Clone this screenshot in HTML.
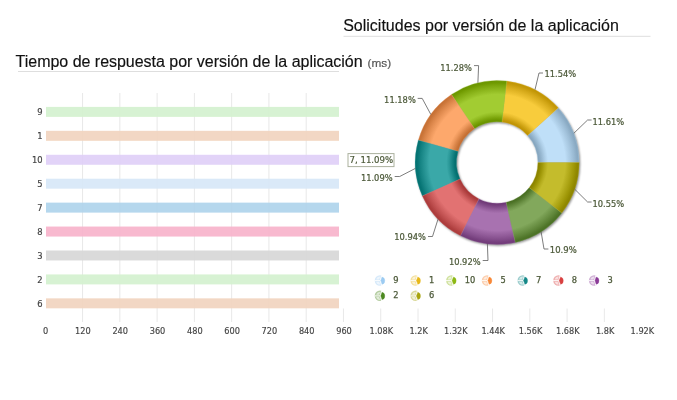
<!DOCTYPE html>
<html lang="es"><head><meta charset="utf-8"><title>Dashboard</title>
<style>html,body{margin:0;padding:0;background:#fff;overflow:hidden}svg{display:block}</style>
</head><body>
<svg width="677" height="400" viewBox="0 0 677 400">
<defs>
<radialGradient id="shade" gradientUnits="userSpaceOnUse" cx="497.2" cy="162.5" r="82">
<stop offset="0.5" stop-color="#000" stop-opacity="0.28"/>
<stop offset="0.53" stop-color="#000" stop-opacity="0.16"/>
<stop offset="0.59" stop-color="#000" stop-opacity="0"/>
<stop offset="0.80" stop-color="#000" stop-opacity="0"/>
<stop offset="0.90" stop-color="#000" stop-opacity="0.07"/>
<stop offset="0.96" stop-color="#000" stop-opacity="0.18"/>
<stop offset="1" stop-color="#000" stop-opacity="0.30"/>
</radialGradient>
<radialGradient id="g0" gradientUnits="userSpaceOnUse" cx="497.2" cy="162.5" r="82"><stop offset="0.494" stop-color="#81a1ba"/><stop offset="0.52" stop-color="#8babc4"/><stop offset="0.55" stop-color="#9bbbd4"/><stop offset="0.585" stop-color="#afcfe8"/><stop offset="0.62" stop-color="#bfdff8"/><stop offset="0.83" stop-color="#bfdff8"/><stop offset="0.86" stop-color="#b4d4ed"/><stop offset="0.9" stop-color="#a7c7e0"/><stop offset="0.94" stop-color="#99b9d2"/><stop offset="0.97" stop-color="#8dadc6"/><stop offset="1" stop-color="#85a5be"/></radialGradient>
<radialGradient id="g1" gradientUnits="userSpaceOnUse" cx="497.2" cy="162.5" r="82"><stop offset="0.494" stop-color="#ba8e00"/><stop offset="0.52" stop-color="#c49808"/><stop offset="0.55" stop-color="#d4a818"/><stop offset="0.585" stop-color="#e8bc2c"/><stop offset="0.62" stop-color="#f8cc3c"/><stop offset="0.83" stop-color="#f8cc3c"/><stop offset="0.86" stop-color="#edc131"/><stop offset="0.9" stop-color="#e0b424"/><stop offset="0.94" stop-color="#d2a616"/><stop offset="0.97" stop-color="#c69a0a"/><stop offset="1" stop-color="#be9202"/></radialGradient>
<radialGradient id="g2" gradientUnits="userSpaceOnUse" cx="497.2" cy="162.5" r="82"><stop offset="0.494" stop-color="#648e00"/><stop offset="0.52" stop-color="#6e9800"/><stop offset="0.55" stop-color="#7ea80e"/><stop offset="0.585" stop-color="#92bc22"/><stop offset="0.62" stop-color="#a2cc32"/><stop offset="0.83" stop-color="#a2cc32"/><stop offset="0.86" stop-color="#97c127"/><stop offset="0.9" stop-color="#8ab41a"/><stop offset="0.94" stop-color="#7ca60c"/><stop offset="0.97" stop-color="#709a00"/><stop offset="1" stop-color="#689200"/></radialGradient>
<radialGradient id="g3" gradientUnits="userSpaceOnUse" cx="497.2" cy="162.5" r="82"><stop offset="0.494" stop-color="#bf6a2e"/><stop offset="0.52" stop-color="#c97438"/><stop offset="0.55" stop-color="#d98448"/><stop offset="0.585" stop-color="#ed985c"/><stop offset="0.62" stop-color="#fda86c"/><stop offset="0.83" stop-color="#fda86c"/><stop offset="0.86" stop-color="#f29d61"/><stop offset="0.9" stop-color="#e59054"/><stop offset="0.94" stop-color="#d78246"/><stop offset="0.97" stop-color="#cb763a"/><stop offset="1" stop-color="#c36e32"/></radialGradient>
<radialGradient id="g4" gradientUnits="userSpaceOnUse" cx="497.2" cy="162.5" r="82"><stop offset="0.494" stop-color="#006a6a"/><stop offset="0.52" stop-color="#067474"/><stop offset="0.55" stop-color="#168484"/><stop offset="0.585" stop-color="#2a9898"/><stop offset="0.62" stop-color="#3aa8a8"/><stop offset="0.83" stop-color="#3aa8a8"/><stop offset="0.86" stop-color="#2f9d9d"/><stop offset="0.9" stop-color="#229090"/><stop offset="0.94" stop-color="#148282"/><stop offset="0.97" stop-color="#087676"/><stop offset="1" stop-color="#006e6e"/></radialGradient>
<radialGradient id="g5" gradientUnits="userSpaceOnUse" cx="497.2" cy="162.5" r="82"><stop offset="0.494" stop-color="#a43434"/><stop offset="0.52" stop-color="#ae3e3e"/><stop offset="0.55" stop-color="#be4e4e"/><stop offset="0.585" stop-color="#d26262"/><stop offset="0.62" stop-color="#e27272"/><stop offset="0.83" stop-color="#e27272"/><stop offset="0.86" stop-color="#d76767"/><stop offset="0.9" stop-color="#ca5a5a"/><stop offset="0.94" stop-color="#bc4c4c"/><stop offset="0.97" stop-color="#b04040"/><stop offset="1" stop-color="#a83838"/></radialGradient>
<radialGradient id="g6" gradientUnits="userSpaceOnUse" cx="497.2" cy="162.5" r="82"><stop offset="0.494" stop-color="#6a3472"/><stop offset="0.52" stop-color="#743e7c"/><stop offset="0.55" stop-color="#844e8c"/><stop offset="0.585" stop-color="#9862a0"/><stop offset="0.62" stop-color="#a872b0"/><stop offset="0.83" stop-color="#a872b0"/><stop offset="0.86" stop-color="#9d67a5"/><stop offset="0.9" stop-color="#905a98"/><stop offset="0.94" stop-color="#824c8a"/><stop offset="0.97" stop-color="#76407e"/><stop offset="1" stop-color="#6e3876"/></radialGradient>
<radialGradient id="g7" gradientUnits="userSpaceOnUse" cx="497.2" cy="162.5" r="82"><stop offset="0.494" stop-color="#446a1e"/><stop offset="0.52" stop-color="#4e7428"/><stop offset="0.55" stop-color="#5e8438"/><stop offset="0.585" stop-color="#72984c"/><stop offset="0.62" stop-color="#82a85c"/><stop offset="0.83" stop-color="#82a85c"/><stop offset="0.86" stop-color="#779d51"/><stop offset="0.9" stop-color="#6a9044"/><stop offset="0.94" stop-color="#5c8236"/><stop offset="0.97" stop-color="#50762a"/><stop offset="1" stop-color="#486e22"/></radialGradient>
<radialGradient id="g8" gradientUnits="userSpaceOnUse" cx="497.2" cy="162.5" r="82"><stop offset="0.494" stop-color="#867e00"/><stop offset="0.52" stop-color="#908800"/><stop offset="0.55" stop-color="#a09808"/><stop offset="0.585" stop-color="#b4ac1c"/><stop offset="0.62" stop-color="#c4bc2c"/><stop offset="0.83" stop-color="#c4bc2c"/><stop offset="0.86" stop-color="#b9b121"/><stop offset="0.9" stop-color="#aca414"/><stop offset="0.94" stop-color="#9e9606"/><stop offset="0.97" stop-color="#928a00"/><stop offset="1" stop-color="#8a8200"/></radialGradient>

<filter id="ds" x="-10%" y="-10%" width="125%" height="125%"><feGaussianBlur stdDeviation="1"/></filter>
</defs>
<rect width="677" height="400" fill="#fff"/>
<g font-family="'Liberation Sans', Arial, sans-serif" fill="#111" stroke="#111" stroke-width="0.15">
<text x="343.2" y="30.9" font-size="16">Solicitudes por versión de la aplicación</text>
<text x="15.6" y="66.9" font-size="16" textLength="347" lengthAdjust="spacing">Tiempo de respuesta por versión de la aplicación</text>
<text x="367.6" y="66.8" font-size="11.8" fill="#666">(ms)</text>
</g>
<rect x="343.5" y="35.8" width="307" height="1" fill="#dedede"/>
<rect x="18" y="71" width="321" height="1" fill="#dedede"/>
<g stroke="#e0e0e0" stroke-width="0.75">
<line x1="82.57" y1="93" x2="82.57" y2="322"/>
<line x1="119.84" y1="93" x2="119.84" y2="322"/>
<line x1="157.11" y1="93" x2="157.11" y2="322"/>
<line x1="194.38" y1="93" x2="194.38" y2="322"/>
<line x1="231.65" y1="93" x2="231.65" y2="322"/>
<line x1="268.92" y1="93" x2="268.92" y2="322"/>
<line x1="306.19" y1="93" x2="306.19" y2="322"/>
<line x1="343.46" y1="308.5" x2="343.46" y2="322"/>
<line x1="380.73" y1="308.5" x2="380.73" y2="322"/>
<line x1="418.00" y1="308.5" x2="418.00" y2="322"/>
<line x1="455.27" y1="308.5" x2="455.27" y2="322"/>
<line x1="492.54" y1="308.5" x2="492.54" y2="322"/>
<line x1="529.81" y1="308.5" x2="529.81" y2="322"/>
<line x1="567.08" y1="308.5" x2="567.08" y2="322"/>
<line x1="604.35" y1="308.5" x2="604.35" y2="322"/>
</g>
<g opacity="0.93">
<rect x="46" y="106.90" width="293" height="10" fill="#D5F2D0"/>
<rect x="46" y="130.83" width="293" height="10" fill="#F2D5C0"/>
<rect x="46" y="154.76" width="293" height="10" fill="#E0D0F8"/>
<rect x="46" y="178.69" width="293" height="10" fill="#D8E8F8"/>
<rect x="46" y="202.62" width="293" height="10" fill="#B0D4EC"/>
<rect x="46" y="226.55" width="293" height="10" fill="#F8B4CC"/>
<rect x="46" y="250.48" width="293" height="10" fill="#D8D8D8"/>
<rect x="46" y="274.41" width="293" height="10" fill="#D5F2D0"/>
<rect x="46" y="298.34" width="293" height="10" fill="#F2D5C0"/>
</g>
<g font-family="'DejaVu Sans', Verdana, sans-serif" font-size="8.4" fill="#444" stroke="#444" stroke-width="0.2" text-anchor="end">
<text x="42.6" y="115.35">9</text>
<text x="42.6" y="139.28">1</text>
<text x="42.6" y="163.21">10</text>
<text x="42.6" y="187.14">5</text>
<text x="42.6" y="211.07">7</text>
<text x="42.6" y="235.00">8</text>
<text x="42.6" y="258.93">3</text>
<text x="42.6" y="282.86">2</text>
<text x="42.6" y="306.79">6</text>
</g>
<g font-family="'DejaVu Sans', Verdana, sans-serif" font-size="8.2" fill="#444" stroke="#444" stroke-width="0.15" text-anchor="middle">
<text x="45.60" y="333.6">0</text>
<text x="82.90" y="333.6">120</text>
<text x="120.20" y="333.6">240</text>
<text x="157.50" y="333.6">360</text>
<text x="194.80" y="333.6">480</text>
<text x="232.10" y="333.6">600</text>
<text x="269.40" y="333.6">720</text>
<text x="306.70" y="333.6">840</text>
<text x="344.00" y="333.6">960</text>
<text x="381.30" y="333.6">1.08K</text>
<text x="418.60" y="333.6">1.2K</text>
<text x="455.90" y="333.6">1.32K</text>
<text x="493.20" y="333.6">1.44K</text>
<text x="530.50" y="333.6">1.56K</text>
<text x="567.80" y="333.6">1.68K</text>
<text x="605.10" y="333.6">1.8K</text>
<text x="642.40" y="333.6">1.92K</text>
</g>
<path d="M415.2,162.5a82,82 0 1,0 164,0a82,82 0 1,0 -164,0Z M456.5,162.5a40.7,40.7 0 1,1 81.4,0a40.7,40.7 0 1,1 -81.4,0Z" fill="#000" fill-opacity="0.45" fill-rule="evenodd" filter="url(#ds)" transform="translate(1,1.2)"/>
<path d="M579.20,162.50A82,82 0 0,0 558.34,107.85L527.54,135.38A40.7,40.7 0 0,1 537.90,162.50Z" fill="url(#g0)" stroke="#BFDFF8" stroke-width="0.3"/>
<path d="M558.34,107.85A82,82 0 0,0 506.72,81.05L501.93,122.08A40.7,40.7 0 0,1 527.54,135.38Z" fill="url(#g1)" stroke="#F8CC3C" stroke-width="0.3"/>
<path d="M506.72,81.05A82,82 0 0,0 451.42,94.47L474.48,128.73A40.7,40.7 0 0,1 501.93,122.08Z" fill="url(#g2)" stroke="#A2CC32" stroke-width="0.3"/>
<path d="M451.42,94.47A82,82 0 0,0 418.31,140.14L458.04,151.40A40.7,40.7 0 0,1 474.48,128.73Z" fill="url(#g3)" stroke="#FDA86C" stroke-width="0.3"/>
<path d="M418.31,140.14A82,82 0 0,0 422.35,195.98L460.05,179.12A40.7,40.7 0 0,1 458.04,151.40Z" fill="url(#g4)" stroke="#3AA8A8" stroke-width="0.3"/>
<path d="M422.35,195.98A82,82 0 0,0 460.59,235.87L479.03,198.92A40.7,40.7 0 0,1 460.05,179.12Z" fill="url(#g5)" stroke="#E27272" stroke-width="0.3"/>
<path d="M460.59,235.87A82,82 0 0,0 515.35,242.47L506.21,202.19A40.7,40.7 0 0,1 479.03,198.92Z" fill="url(#g6)" stroke="#A872B0" stroke-width="0.3"/>
<path d="M515.35,242.47A82,82 0 0,0 561.84,212.96L529.28,187.54A40.7,40.7 0 0,1 506.21,202.19Z" fill="url(#g7)" stroke="#82A85C" stroke-width="0.3"/>
<path d="M561.84,212.96A82,82 0 0,0 579.20,162.50L537.90,162.50A40.7,40.7 0 0,1 529.28,187.54Z" fill="url(#g8)" stroke="#C4BC2C" stroke-width="0.3"/>
<g fill="none" stroke="#5c5c5c" stroke-width="0.8">
<polyline points="591.6,120 587.6,120 573.8,133.3"/>
<polyline points="543,73 539,73 535.0,89.7"/>
<polyline points="474,65.6 478.6,65.6 477.9,82.8"/>
<polyline points="417.7,98.4 422.2,98.4 430.8,114.4"/>
<polyline points="394.7,176.5 399.7,176.5 415.4,168.4"/>
<polyline points="428,236.5 432.5,236.5 438.0,219.2"/>
<polyline points="482.7,260.5 488,260.5 487.4,243.9"/>
<polyline points="548.4,249 544,249 541.1,231.7"/>
<polyline points="591.6,202 587.6,202 574.7,189.2"/>
</g>
<g font-family="'DejaVu Sans', Verdana, sans-serif" font-size="8.1" fill="#4d5a3a" stroke="#4d5a3a" stroke-width="0.22">
<text x="592.5" y="124.5" textLength="31.7" lengthAdjust="spacingAndGlyphs">11.61%</text>
<text x="544.5" y="77.3" textLength="31.7" lengthAdjust="spacingAndGlyphs">11.54%</text>
<text x="440.3" y="70.7" textLength="31.7" lengthAdjust="spacingAndGlyphs">11.28%</text>
<text x="384.1" y="102.5" textLength="31.7" lengthAdjust="spacingAndGlyphs">11.18%</text>
<text x="360.9" y="181.3" textLength="31.7" lengthAdjust="spacingAndGlyphs">11.09%</text>
<text x="394.3" y="240.1" textLength="31.7" lengthAdjust="spacingAndGlyphs">10.94%</text>
<text x="448.9" y="264.9" textLength="31.7" lengthAdjust="spacingAndGlyphs">10.92%</text>
<text x="549.8" y="253.3" textLength="27.0" lengthAdjust="spacingAndGlyphs">10.9%</text>
<text x="592.5" y="206.5" textLength="31.7" lengthAdjust="spacingAndGlyphs">10.55%</text>
</g>
<rect x="348" y="153.6" width="46" height="13" fill="#fff" stroke="#abb19e" stroke-width="1"/>
<text x="349.5" y="163.3" font-family="'DejaVu Sans', Verdana, sans-serif" font-size="8.6" fill="#4d5a3a" stroke="#4d5a3a" stroke-width="0.2">7, 11.09%</text>
<g font-family="'DejaVu Sans', Verdana, sans-serif" font-size="8.3" fill="#4d5a3a" stroke="#4d5a3a" stroke-width="0.25">
<g transform="translate(380.0,280.5)">
<circle r="5.3" fill="#9CCBF2" fill-opacity="0.42" stroke="none"/>
<path d="M-3.8,-1.0L-0.9,-1.0L0.3,-3.9A4.0,4.0 0 0,0 -3.8,-1.0ZM-3.8,1.2L-0.9,1.2L0.3,4.1A4.0,4.0 0 0,1 -3.8,1.2Z" fill="#fff" fill-opacity="0.6" stroke="none"/>
<path d="M0.4,0.1H-5.4M0.2,0.1L1.7,-5.2M0.2,0.1L1.7,5.4" stroke="#fff" stroke-width="0.9" fill="none"/>
<path d="M1.9,-5.3A5.3,5.3 0 0,1 1.9,5.3L1.2,0Z" fill="#fff" stroke="none"/>
<path d="M0.8,0.1L2.1,-3.5A3.2,3.7 0 0,1 2.1,3.8Z" fill="#9CCBF2" stroke="#9CCBF2" stroke-width="0.3" stroke-linejoin="round"/>
</g>
<text x="393.3" y="283.1">9</text>
<g transform="translate(415.7,280.5)">
<circle r="5.3" fill="#E8B818" fill-opacity="0.42" stroke="none"/>
<path d="M-3.8,-1.0L-0.9,-1.0L0.3,-3.9A4.0,4.0 0 0,0 -3.8,-1.0ZM-3.8,1.2L-0.9,1.2L0.3,4.1A4.0,4.0 0 0,1 -3.8,1.2Z" fill="#fff" fill-opacity="0.6" stroke="none"/>
<path d="M0.4,0.1H-5.4M0.2,0.1L1.7,-5.2M0.2,0.1L1.7,5.4" stroke="#fff" stroke-width="0.9" fill="none"/>
<path d="M1.9,-5.3A5.3,5.3 0 0,1 1.9,5.3L1.2,0Z" fill="#fff" stroke="none"/>
<path d="M0.8,0.1L2.1,-3.5A3.2,3.7 0 0,1 2.1,3.8Z" fill="#E8B818" stroke="#E8B818" stroke-width="0.3" stroke-linejoin="round"/>
</g>
<text x="429.0" y="283.1">1</text>
<g transform="translate(451.4,280.5)">
<circle r="5.3" fill="#8CB814" fill-opacity="0.42" stroke="none"/>
<path d="M-3.8,-1.0L-0.9,-1.0L0.3,-3.9A4.0,4.0 0 0,0 -3.8,-1.0ZM-3.8,1.2L-0.9,1.2L0.3,4.1A4.0,4.0 0 0,1 -3.8,1.2Z" fill="#fff" fill-opacity="0.6" stroke="none"/>
<path d="M0.4,0.1H-5.4M0.2,0.1L1.7,-5.2M0.2,0.1L1.7,5.4" stroke="#fff" stroke-width="0.9" fill="none"/>
<path d="M1.9,-5.3A5.3,5.3 0 0,1 1.9,5.3L1.2,0Z" fill="#fff" stroke="none"/>
<path d="M0.8,0.1L2.1,-3.5A3.2,3.7 0 0,1 2.1,3.8Z" fill="#8CB814" stroke="#8CB814" stroke-width="0.3" stroke-linejoin="round"/>
</g>
<text x="464.7" y="283.1">10</text>
<g transform="translate(487.1,280.5)">
<circle r="5.3" fill="#F88838" fill-opacity="0.42" stroke="none"/>
<path d="M-3.8,-1.0L-0.9,-1.0L0.3,-3.9A4.0,4.0 0 0,0 -3.8,-1.0ZM-3.8,1.2L-0.9,1.2L0.3,4.1A4.0,4.0 0 0,1 -3.8,1.2Z" fill="#fff" fill-opacity="0.6" stroke="none"/>
<path d="M0.4,0.1H-5.4M0.2,0.1L1.7,-5.2M0.2,0.1L1.7,5.4" stroke="#fff" stroke-width="0.9" fill="none"/>
<path d="M1.9,-5.3A5.3,5.3 0 0,1 1.9,5.3L1.2,0Z" fill="#fff" stroke="none"/>
<path d="M0.8,0.1L2.1,-3.5A3.2,3.7 0 0,1 2.1,3.8Z" fill="#F88838" stroke="#F88838" stroke-width="0.3" stroke-linejoin="round"/>
</g>
<text x="500.4" y="283.1">5</text>
<g transform="translate(522.8,280.5)">
<circle r="5.3" fill="#148888" fill-opacity="0.42" stroke="none"/>
<path d="M-3.8,-1.0L-0.9,-1.0L0.3,-3.9A4.0,4.0 0 0,0 -3.8,-1.0ZM-3.8,1.2L-0.9,1.2L0.3,4.1A4.0,4.0 0 0,1 -3.8,1.2Z" fill="#fff" fill-opacity="0.6" stroke="none"/>
<path d="M0.4,0.1H-5.4M0.2,0.1L1.7,-5.2M0.2,0.1L1.7,5.4" stroke="#fff" stroke-width="0.9" fill="none"/>
<path d="M1.9,-5.3A5.3,5.3 0 0,1 1.9,5.3L1.2,0Z" fill="#fff" stroke="none"/>
<path d="M0.8,0.1L2.1,-3.5A3.2,3.7 0 0,1 2.1,3.8Z" fill="#148888" stroke="#148888" stroke-width="0.3" stroke-linejoin="round"/>
</g>
<text x="536.1" y="283.1">7</text>
<g transform="translate(558.5,280.5)">
<circle r="5.3" fill="#D84040" fill-opacity="0.42" stroke="none"/>
<path d="M-3.8,-1.0L-0.9,-1.0L0.3,-3.9A4.0,4.0 0 0,0 -3.8,-1.0ZM-3.8,1.2L-0.9,1.2L0.3,4.1A4.0,4.0 0 0,1 -3.8,1.2Z" fill="#fff" fill-opacity="0.6" stroke="none"/>
<path d="M0.4,0.1H-5.4M0.2,0.1L1.7,-5.2M0.2,0.1L1.7,5.4" stroke="#fff" stroke-width="0.9" fill="none"/>
<path d="M1.9,-5.3A5.3,5.3 0 0,1 1.9,5.3L1.2,0Z" fill="#fff" stroke="none"/>
<path d="M0.8,0.1L2.1,-3.5A3.2,3.7 0 0,1 2.1,3.8Z" fill="#D84040" stroke="#D84040" stroke-width="0.3" stroke-linejoin="round"/>
</g>
<text x="571.8" y="283.1">8</text>
<g transform="translate(594.2,280.5)">
<circle r="5.3" fill="#8C3C98" fill-opacity="0.42" stroke="none"/>
<path d="M-3.8,-1.0L-0.9,-1.0L0.3,-3.9A4.0,4.0 0 0,0 -3.8,-1.0ZM-3.8,1.2L-0.9,1.2L0.3,4.1A4.0,4.0 0 0,1 -3.8,1.2Z" fill="#fff" fill-opacity="0.6" stroke="none"/>
<path d="M0.4,0.1H-5.4M0.2,0.1L1.7,-5.2M0.2,0.1L1.7,5.4" stroke="#fff" stroke-width="0.9" fill="none"/>
<path d="M1.9,-5.3A5.3,5.3 0 0,1 1.9,5.3L1.2,0Z" fill="#fff" stroke="none"/>
<path d="M0.8,0.1L2.1,-3.5A3.2,3.7 0 0,1 2.1,3.8Z" fill="#8C3C98" stroke="#8C3C98" stroke-width="0.3" stroke-linejoin="round"/>
</g>
<text x="607.5" y="283.1">3</text>
<g transform="translate(380.0,295.8)">
<circle r="5.3" fill="#4C8820" fill-opacity="0.42" stroke="none"/>
<path d="M-3.8,-1.0L-0.9,-1.0L0.3,-3.9A4.0,4.0 0 0,0 -3.8,-1.0ZM-3.8,1.2L-0.9,1.2L0.3,4.1A4.0,4.0 0 0,1 -3.8,1.2Z" fill="#fff" fill-opacity="0.6" stroke="none"/>
<path d="M0.4,0.1H-5.4M0.2,0.1L1.7,-5.2M0.2,0.1L1.7,5.4" stroke="#fff" stroke-width="0.9" fill="none"/>
<path d="M1.9,-5.3A5.3,5.3 0 0,1 1.9,5.3L1.2,0Z" fill="#fff" stroke="none"/>
<path d="M0.8,0.1L2.1,-3.5A3.2,3.7 0 0,1 2.1,3.8Z" fill="#4C8820" stroke="#4C8820" stroke-width="0.3" stroke-linejoin="round"/>
</g>
<text x="393.3" y="298.4">2</text>
<g transform="translate(415.7,295.8)">
<circle r="5.3" fill="#A8A40C" fill-opacity="0.42" stroke="none"/>
<path d="M-3.8,-1.0L-0.9,-1.0L0.3,-3.9A4.0,4.0 0 0,0 -3.8,-1.0ZM-3.8,1.2L-0.9,1.2L0.3,4.1A4.0,4.0 0 0,1 -3.8,1.2Z" fill="#fff" fill-opacity="0.6" stroke="none"/>
<path d="M0.4,0.1H-5.4M0.2,0.1L1.7,-5.2M0.2,0.1L1.7,5.4" stroke="#fff" stroke-width="0.9" fill="none"/>
<path d="M1.9,-5.3A5.3,5.3 0 0,1 1.9,5.3L1.2,0Z" fill="#fff" stroke="none"/>
<path d="M0.8,0.1L2.1,-3.5A3.2,3.7 0 0,1 2.1,3.8Z" fill="#A8A40C" stroke="#A8A40C" stroke-width="0.3" stroke-linejoin="round"/>
</g>
<text x="429.0" y="298.4">6</text>
</g>
</svg>
</body></html>
